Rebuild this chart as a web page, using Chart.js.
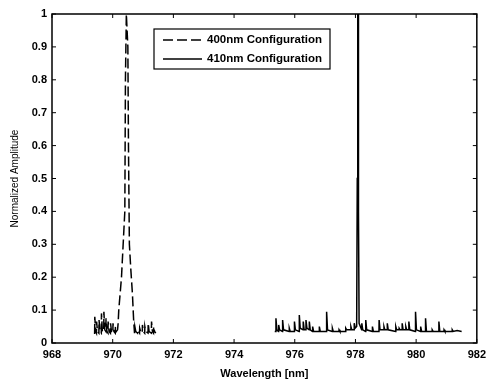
<!DOCTYPE html>
<html>
<head>
<meta charset="utf-8">
<script src="https://cdn.jsdelivr.net/npm/chart.js@4"></script>
<style>
  html, body { margin: 0; padding: 0; background: #fff; }
  #wrap { width: 491px; height: 381px; }
</style>
</head>
<body>
<div id="wrap"><canvas id="spectrum" width="491" height="381"></canvas></div>
<script>
// 400nm configuration (dashed)
const wl400 = [969.38,
  969.405, 969.41, 969.44,  969.465, 969.47, 969.50,  969.545, 969.55, 969.58,
  969.625, 969.63, 969.66,  969.705, 969.71, 969.74,  969.775, 969.78, 969.81,
  969.845, 969.85, 969.88,  969.925, 969.93, 969.96,
  970.005, 970.01, 970.04,  970.085, 970.09, 970.12,
  970.16, 970.18, 970.20, 970.29, 970.40, 970.42, 970.45, 970.50, 970.52, 970.55,
  970.60, 970.65, 970.69, 970.72,
  970.73, 970.76,  970.815, 970.82, 970.85,  970.885, 970.89, 970.92,
  970.975, 970.98, 971.01,  971.055, 971.06, 971.09,
  971.165, 971.17, 971.20,  971.275, 971.28, 971.31,  971.345, 971.35, 971.38,
  971.42];
const amp400 = [0.03,
  0.03, 0.08, 0.035,  0.03, 0.065, 0.035,  0.03, 0.07, 0.035,
  0.03, 0.09, 0.035,  0.035, 0.095, 0.04,  0.035, 0.075, 0.035,
  0.03, 0.065, 0.035,  0.03, 0.06, 0.035,
  0.03, 0.06, 0.035,  0.03, 0.05, 0.035,
  0.04, 0.06, 0.1, 0.2, 0.4, 0.8, 1.0, 0.9, 0.6, 0.3,
  0.22, 0.15, 0.07, 0.03,
  0.05, 0.035,  0.03, 0.04, 0.035,  0.03, 0.045, 0.035,
  0.03, 0.055, 0.035,  0.03, 0.05, 0.035,
  0.03, 0.06, 0.035,  0.03, 0.065, 0.035,  0.03, 0.05, 0.035,
  0.03];

// 410nm configuration (solid)
const wl410 = [975.34,
  975.375, 975.38, 975.41,  975.465, 975.47, 975.50,  975.595, 975.60, 975.63,
  975.815, 975.82, 975.85,  975.985, 975.99, 976.02,  976.145, 976.15, 976.18,
  976.275, 976.28, 976.31,  976.365, 976.37, 976.40,  976.475, 976.48, 976.51,
  976.585, 976.59, 976.62,  976.805, 976.81, 976.84,  977.045, 977.05, 977.08,
  977.235, 977.24, 977.27,  977.455, 977.46, 977.49,  977.675, 977.68, 977.71,
  977.845, 977.85, 977.88,  977.955, 977.96, 977.99,
  978.04, 978.06, 978.075, 978.085, 978.10, 978.12,
  978.205, 978.21, 978.24,  978.335, 978.34, 978.37,  978.555, 978.56, 978.59,
  978.775, 978.78, 978.81,  978.935, 978.94, 978.97,  979.045, 979.05, 979.08,
  979.325, 979.33, 979.36,  979.435, 979.44, 979.47,  979.535, 979.54, 979.57,
  979.655, 979.66, 979.69,  979.755, 979.76, 979.79,  979.975, 979.98, 980.01,
  980.145, 980.15, 980.18,  980.305, 980.31, 980.34,  980.525, 980.53, 980.56,
  980.745, 980.75, 980.78,  980.915, 980.92, 980.95,  981.185, 981.19, 981.22,
  981.35, 981.50];
const amp410 = [0.035,
  0.035, 0.075, 0.04,  0.035, 0.055, 0.04,  0.035, 0.07, 0.04,
  0.035, 0.045, 0.035,  0.035, 0.065, 0.04,  0.035, 0.085, 0.045,
  0.04, 0.065, 0.04,  0.04, 0.07, 0.045,  0.04, 0.065, 0.04,
  0.035, 0.05, 0.035,  0.035, 0.05, 0.035,  0.035, 0.095, 0.04,
  0.035, 0.045, 0.035,  0.035, 0.04, 0.035,  0.035, 0.045, 0.04,
  0.04, 0.05, 0.04,  0.04, 0.06, 0.045,
  0.05, 0.5, 1.0, 1.0, 0.4, 0.06,
  0.04, 0.06, 0.04,  0.035, 0.07, 0.04,  0.035, 0.05, 0.035,
  0.035, 0.07, 0.04,  0.04, 0.05, 0.04,  0.04, 0.06, 0.04,
  0.035, 0.05, 0.04,  0.04, 0.045, 0.04,  0.04, 0.06, 0.04,
  0.04, 0.05, 0.04,  0.04, 0.065, 0.04,  0.035, 0.095, 0.04,
  0.035, 0.05, 0.035,  0.035, 0.075, 0.035,  0.035, 0.04, 0.035,
  0.035, 0.065, 0.035,  0.035, 0.04, 0.035,  0.035, 0.04, 0.035,
  0.038, 0.035];

const xTicks = [968, 970, 972, 974, 976, 978, 980, 982];
const yTicks = [0, 0.1, 0.2, 0.3, 0.4, 0.5, 0.6, 0.7, 0.8, 0.9, 1];
const seriesNames = ["400nm Configuration", "410nm Configuration"];

const FONT = "'Liberation Sans', Arial, sans-serif";

function toPoints(xs, ys) {
  return xs.map((x, i) => ({ x: x, y: ys[i] }));
}

// box + inward ticks on all four sides, matlab style
const framePlugin = {
  id: "frame",
  afterDraw(chart) {
    const { ctx, chartArea: a, scales } = chart;
    ctx.save();
    ctx.strokeStyle = "#000";
    ctx.lineWidth = 1.5;
    ctx.strokeRect(a.left, a.top, a.right - a.left, a.bottom - a.top);
    ctx.lineWidth = 1;
    ctx.beginPath();
    for (const t of xTicks) {
      const px = scales.x.getPixelForValue(t);
      ctx.moveTo(px, a.bottom); ctx.lineTo(px, a.bottom - 4);
      ctx.moveTo(px, a.top); ctx.lineTo(px, a.top + 4);
    }
    for (const t of yTicks) {
      const py = scales.y.getPixelForValue(t);
      ctx.moveTo(a.left, py); ctx.lineTo(a.left + 4, py);
      ctx.moveTo(a.right, py); ctx.lineTo(a.right - 4, py);
    }
    ctx.stroke();

    // legend box
    const lx = 154, ly = 29, lw = 176, lh = 40;
    ctx.fillStyle = "#fff";
    ctx.fillRect(lx, ly, lw, lh);
    ctx.lineWidth = 1.2;
    ctx.strokeRect(lx, ly, lw, lh);
    ctx.font = "bold 11.5px " + FONT;
    ctx.textBaseline = "middle";
    ctx.fillStyle = "#000";
    chart.data.datasets.forEach((ds, i) => {
      const yy = ly + 11 + i * 19;
      ctx.beginPath();
      ctx.lineWidth = 1.5;
      ctx.setLineDash(ds.borderDash || []);
      ctx.moveTo(lx + 9, yy); ctx.lineTo(lx + 48, yy);
      ctx.stroke();
      ctx.setLineDash([]);
      ctx.fillText(ds.label, lx + 53, yy);
    });
    ctx.restore();
  }
};

new Chart(document.getElementById("spectrum"), {
  type: "line",
  data: {
    datasets: [{
      label: seriesNames[0],
      data: toPoints(wl400, amp400),
      borderColor: "#000",
      borderWidth: 1.5,
      borderDash: [10, 4],
      pointRadius: 0,
      tension: 0
    }, {
      label: seriesNames[1],
      data: toPoints(wl410, amp410),
      borderColor: "#000",
      borderWidth: 1.5,
      pointRadius: 0,
      tension: 0
    }]
  },
  plugins: [framePlugin],
  options: {
    responsive: false,
    animation: false,
    layout: { padding: { top: 14, right: 13, left: 0, bottom: 0 } },
    plugins: {
      legend: { display: false },
      tooltip: { enabled: false }
    },
    scales: {
      x: {
        type: "linear",
        min: 968,
        max: 982,
        afterBuildTicks: (s) => { s.ticks = xTicks.map(v => ({ value: v })); },
        afterFit: (s) => { s.height = 38; },
        grid: { display: false, drawTicks: false },
        border: { display: false },
        ticks: { color: "#000", padding: 5, callback: (v) => String(v),
          font: { family: FONT, size: 11, weight: "bold" } },
        title: { display: true, text: "Wavelength [nm]", color: "#000", padding: { top: 1, bottom: 0 },
          font: { family: FONT, size: 11, weight: "bold" } }
      },
      y: {
        min: 0,
        max: 1,
        afterBuildTicks: (s) => { s.ticks = yTicks.map(v => ({ value: v })); },
        afterFit: (s) => { s.width = 52; },
        grid: { display: false, drawTicks: false },
        border: { display: false },
        ticks: { color: "#000", padding: 5, callback: (v) => String(v),
          font: { family: FONT, size: 11, weight: "bold" } },
        title: { display: true, text: "Normalized Amplitude", color: "#000", padding: { top: 9, bottom: 0 },
          font: { family: FONT, size: 10, weight: "normal" } }
      }
    }
  }
});
</script>
</body>
</html>
